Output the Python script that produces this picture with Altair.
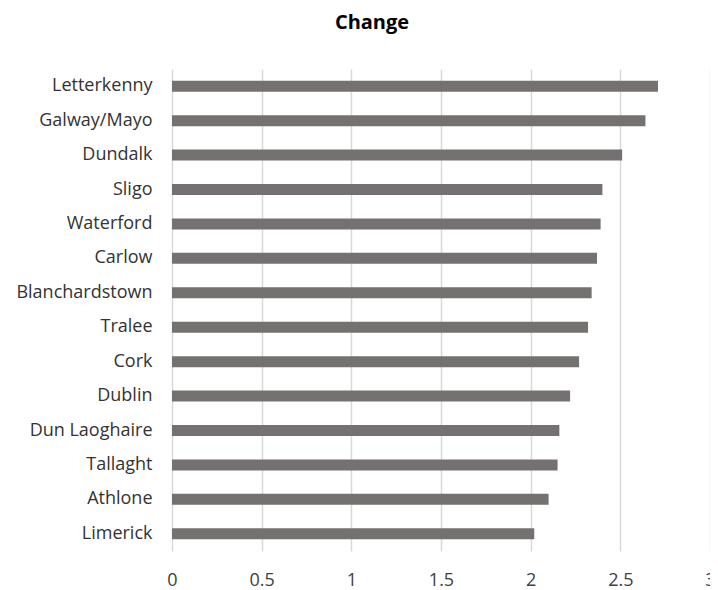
import altair as alt
import pandas as pd

campuses = ["Letterkenny", "Galway/Mayo", "Dundalk", "Sligo", "Waterford", "Carlow",
            "Blanchardstown", "Tralee", "Cork", "Dublin", "Dun Laoghaire", "Tallaght",
            "Athlone", "Limerick"]
change = [2.71, 2.64, 2.51, 2.40, 2.39, 2.37, 2.34, 2.32, 2.27, 2.22, 2.16, 2.15, 2.10, 2.02]
x_ticks = [0, 0.5, 1, 1.5, 2, 2.5, 3]

df = pd.DataFrame({"campus": campuses, "change": change})

FONT = "Open Sans"

chart = alt.Chart(df).mark_bar(color="#767171").encode(
    x=alt.X("change:Q",
            scale=alt.Scale(domain=[0, 3], nice=False, zero=True),
            axis=alt.Axis(values=x_ticks, title=None, domain=False, ticks=False,
                          grid=True, gridColor="#d9d9d9", gridWidth=1.5,
                          labelFont=FONT, labelFontSize=18, labelColor="#404040",
                          labelPadding=20, labelFlush=False,
                          labelExpr="datum.value")),
    y=alt.Y("campus:N", sort=campuses,
            scale=alt.Scale(paddingInner=0.68, paddingOuter=0.34),
            axis=alt.Axis(title=None, domain=False, ticks=False, grid=False,
                          labelFont=FONT, labelFontSize=18, labelColor="#333333",
                          labelPadding=20)),
).properties(
    width=538,
    height=482,
    title=alt.TitleParams("Change", font=FONT, fontSize=20, fontWeight="bold",
                          color="#000000", anchor="middle", dx=-69, offset=36),
    autosize=alt.AutoSizeParams(type="none"),
    padding={"left": 164, "top": 61, "right": 0, "bottom": 39},
).configure_view(stroke=None)

chart.save("out.html", embed_options={"renderer": "svg", "actions": False})
